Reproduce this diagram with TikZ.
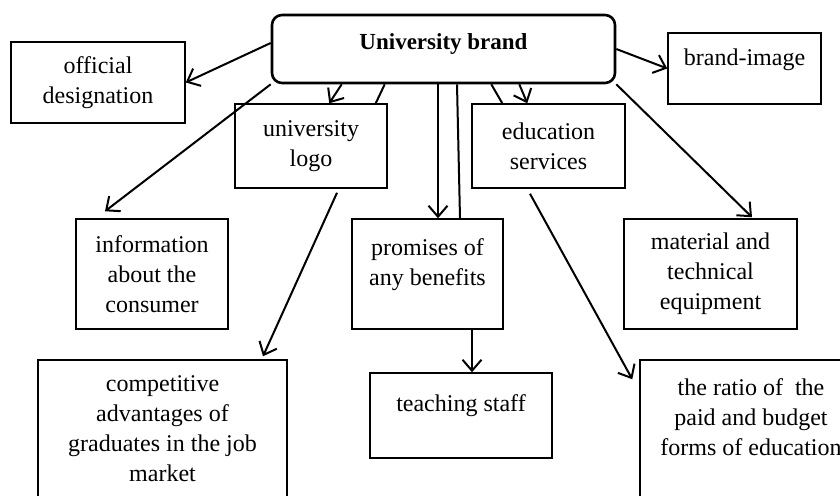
\documentclass[tikz,border=0pt]{standalone}
\usepackage{fontspec}
\setmainfont{Liberation Serif}
\usepackage{tikz}
\usetikzlibrary{arrows.meta,positioning}

\begin{document}
\begin{tikzpicture}[
  x=1pt, y=-1pt,
  every node/.style={font=\fontsize{24}{30}\selectfont},
  head/.style={draw, rounded corners=10pt, line width=2.6pt, fill=white,
    align=center, minimum width=343pt, minimum height=68pt,
    font=\bfseries\fontsize{23}{30}\selectfont},
  box/.style={draw, line width=1.5pt, fill=white, align=center, inner sep=0pt},
  link/.style={line width=2pt},
  arr/.style={link, -{Straight Barb[length=11pt,width=19pt,line width=2pt]}}
]
\useasboundingbox (0,0) rectangle (840,495);
\clip (0,0) rectangle (840,495);

% Centre
\node[head] (brand) at (443.5,49) {University brand\\[-16pt]\mbox{}};

% Boxes
\node[box, minimum width=174pt, minimum height=81pt] (official) at (98,82.5) {official\\designation};
\node[box, minimum width=153pt, minimum height=71pt] (image) at (744.5,68.5) {brand-image\\[-7pt]\mbox{}};
\node[box, minimum width=152pt, minimum height=84pt] (logo) at (311,146) {university\\logo};
\node[box, minimum width=153pt, minimum height=84pt] (services) at (548.5,146) {education\\services};
\node[box, minimum width=152pt, minimum height=110pt] (consumer) at (152,274) {information\\about the\\consumer};
\node[box, minimum width=151pt, minimum height=110pt] (benefits) at (427.5,274) {promises of\\any benefits\\[-7pt]\mbox{}};
\node[box, minimum width=173pt, minimum height=110pt] (equipment) at (710.5,274) {material and\\technical\\equipment};
\node[box, minimum width=249pt, minimum height=150pt] (advantages) at (162.5,435) {competitive\\advantages of\\graduates in the job\\market\\[-18pt]\mbox{}};
\node[box, minimum width=182pt, minimum height=85pt] (staff) at (461,415.5) {teaching staff\\[-5pt]\mbox{}};
\node[box, minimum width=222pt, minimum height=150pt] (ratio) at (751,435) {the ratio of\ \ the\\paid and budget\\forms of education\\[5pt]\mbox{}};

% Arrows
\draw[arr] ([yshift=6pt]brand.west) -- (official.east);
\draw[arr] (brand.east) -- (image.west);
\draw[arr] (brand.south west) -- ([xshift=-47pt,yshift=7pt]consumer.north);
\draw[arr] ([xshift=71pt]brand.south west) -- ([xshift=95pt]logo.north west);
\draw[link] ([xshift=114pt]brand.south west) -- ([xshift=-12pt]logo.north east);
\draw[arr] ([xshift=26pt,yshift=-4pt]logo.south) -- ([xshift=100.5pt,yshift=3pt]advantages.north);
\draw[arr] ([xshift=-5.5pt]brand.south) -- ([xshift=10.5pt]benefits.north);
\draw[link] ([xshift=13.5pt]brand.south) -- ([xshift=32.5pt]benefits.north);
\draw[arr] ([xshift=44.5pt]benefits.south) -- ([xshift=11pt]staff.north);
\draw[arr] ([xshift=-97pt]brand.south east) -- ([xshift=56pt]services.north west);
\draw[link] ([xshift=-125pt]brand.south east) -- ([xshift=31pt]services.north west);
\draw[arr] ([xshift=-18.5pt,yshift=-5pt]services.south) -- ([xshift=-7pt,yshift=-20pt]ratio.north west);
\draw[arr] (brand.south east) -- ([xshift=41.5pt,yshift=1pt]equipment.north);

\end{tikzpicture}
\end{document}
